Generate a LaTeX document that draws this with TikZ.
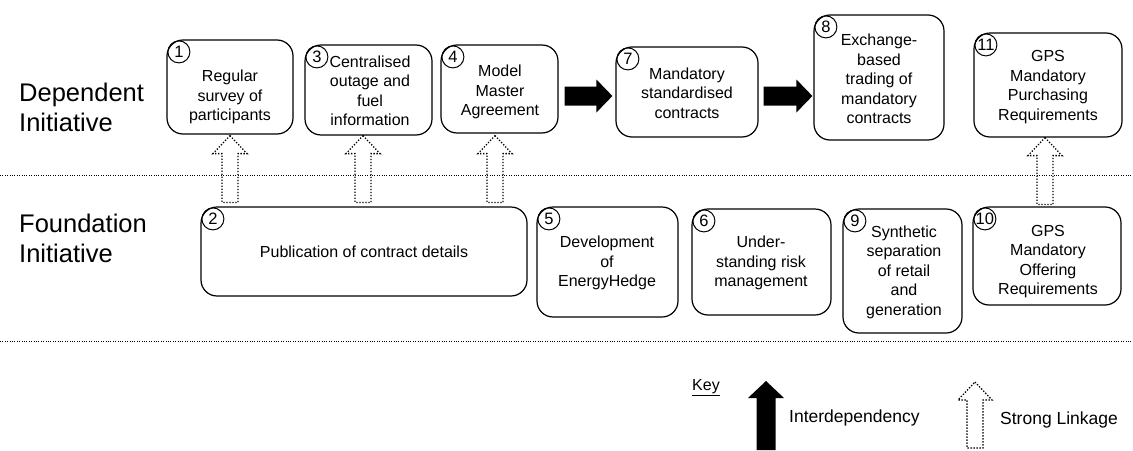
\documentclass[tikz,border=0pt]{standalone}
\usepackage{fontspec}
\setmainfont{Liberation Sans}
\usetikzlibrary{calc}

% hollow dotted arrow pointing up: #1 = tip, #2 = middle of the base
\newcommand\linkarrow[2]{%
  \draw[link] (#1) -- ($(#1)+(17,18)$) -- ($(#1)+(8,18)$) -- ($(#2)+(8,0)$)
    -- ($(#2)+(-8,0)$) -- ($(#1)+(-8,18)$) -- ($(#1)+(-17,18)$) -- cycle;}
% filled arrow pointing right: #1 = tail middle, #2 = tip
\newcommand\solidright[2]{%
  \fill ($(#1)+(0,-9.5)$) -- ($(#2)+(-16,-9.5)$) -- ($(#2)+(-16,-16.5)$) -- (#2)
    -- ($(#2)+(-16,16.5)$) -- ($(#2)+(-16,9.5)$) -- ($(#1)+(0,9.5)$) -- cycle;}
% filled arrow pointing up: #1 = tip, #2 = middle of the base
\newcommand\solidup[2]{%
  \fill (#1) -- ($(#1)+(18,17)$) -- ($(#1)+(9.5,17)$) -- ($(#2)+(9.5,0)$)
    -- ($(#2)+(-9.5,0)$) -- ($(#1)+(-9.5,17)$) -- ($(#1)+(-18,17)$) -- cycle;}

\begin{document}
\begin{tikzpicture}[x=1pt,y=-1pt,
  box/.style={draw, line width=1.2pt, rounded corners=16pt, inner sep=0pt},
  txt/.style={align=center, inner sep=0pt, font=\fontsize{16}{19.5}\selectfont},
  num/.style={circle, draw, line width=1pt, minimum size=22pt, inner sep=0pt,
    font=\fontsize{16.5}{16.5}\selectfont},
  rowlabel/.style={align=left, anchor=west, inner sep=0pt,
    font=\fontsize{25.5}{30}\selectfont},
  keytext/.style={anchor=west, inner sep=0pt, font=\fontsize{17.5}{20}\selectfont},
  sep/.style={line width=1pt, dash pattern=on 1pt off 1.4pt},
  link/.style={line width=1.3pt, dash pattern=on 1.3pt off 1.7pt, line join=miter},
]
\fill[white] (0,0) rectangle (1133,450);
\useasboundingbox (0,0) rectangle (1133,450);

% row titles
\node[rowlabel] (dep) at (19,107) {Dependent\\Initiative};
\node[rowlabel] (fnd) at (19,238) {Foundation\\Initiative};

% separators between the rows
\coordinate (s1l) at (0,175);    \coordinate (s1r) at (1133,175);
\coordinate (s2l) at (0,341);    \coordinate (s2r) at (1133,341);
\draw[sep] (s1l) -- (s1r);
\draw[sep] (s2l) -- (s2r);

% dependent initiatives
\node[box, minimum width=126pt, minimum height=94pt]  (b1)  at (230,87)    {};
\node[box, minimum width=127pt, minimum height=90pt]  (b3)  at (368.5,90)  {};
\node[box, minimum width=117pt, minimum height=88pt]  (b4)  at (499.5,89)  {};
\node[box, minimum width=142pt, minimum height=90pt]  (b7)  at (687,92)    {};
\node[box, minimum width=130pt, minimum height=125pt] (b8)  at (879,77.5)  {};
\node[box, minimum width=148pt, minimum height=104pt] (b11) at (1048,85)   {};

\node[txt] (t1)  at (230,97)   {Regular\\survey of\\participants};
\node[txt] (t3)  at (370,91)   {Centralised\\outage and\\fuel\\information};
\node[txt] (t4)  at (500,92)   {Model\\Master\\Agreement};
\node[txt] (t7)  at (687,93)   {Mandatory\\standardised\\contracts};
\node[txt] (t8)  at (879,79)   {Exchange-\\based\\trading of\\mandatory\\contracts};
\node[txt] (t11) at (1048,87)  {GPS\\Mandatory\\Purchasing\\Requirements};

% foundation initiatives
\node[box, minimum width=326pt, minimum height=89pt]  (b2)  at (364,251.5) {};
\node[box, minimum width=141pt, minimum height=110pt] (b5)  at (607.5,262) {};
\node[box, minimum width=139pt, minimum height=106pt] (b6)  at (761.5,262) {};
\node[box, minimum width=119pt, minimum height=124pt] (b9)  at (902.5,271) {};
\node[box, minimum width=148pt, minimum height=98pt]  (b10) at (1047,256)  {};

\node[txt] (t2)  at (364,252)   {Publication of contract details};
\node[txt] (t5)  at (607,263)   {Development\\of\\EnergyHedge};
\node[txt] (t6)  at (761,263)   {Under-\\standing risk\\management};
\node[txt] (t9)  at (904,272)   {Synthetic\\separation\\of retail\\and\\generation};
\node[txt] (t10) at (1048,261.5){GPS\\Mandatory\\Offering\\Requirements};

% numbers in the corners
\foreach \b/\n in {b1/1,b2/2,b3/3,b4/4,b5/5,b6/6,b7/7,b8/8,b9/9,b10/10,b11/11}
  \node[num] (n\n) at ($(\b.north west)+(12.5,12.5)$) {\n};

% strong linkages
\path (230,0) coordinate (x1) (363,0) coordinate (x3)
      (495,0) coordinate (x4) (1045,0) coordinate (x11);
\coordinate (tip1)  at ($(x1 |- b1.south)+(0,1)$);
\coordinate (tip3)  at ($(x3 |- b1.south)+(0,1)$);
\coordinate (tip4)  at ($(x4 |- b4.south)+(0,2)$);
\coordinate (tip11) at (x11 |- b11.south);
\coordinate (bas1)  at ($(x1 |- b2.north)+(0,-4)$);
\coordinate (bas3)  at ($(x3 |- b2.north)+(0,-4)$);
\coordinate (bas4)  at ($(x4 |- b2.north)+(0,-4)$);
\coordinate (bas11) at ($(x11 |- b10.north)+(0,-2)$);
\linkarrow{tip1}{bas1}
\linkarrow{tip3}{bas3}
\linkarrow{tip4}{bas4}
\linkarrow{tip11}{bas11}

% interdependencies
\coordinate (i1s) at ($(b4.east)+(6,7)$);
\coordinate (i1t) at ($(b7.west |- i1s)+(-3,0)$);
\coordinate (i2s) at ($(b7.east)+(5,4)$);
\coordinate (i2t) at ($(b8.west |- i2s)+(-1,0)$);
\solidright{i1s}{i1t}
\solidright{i2s}{i2t}

% key
\node[inner sep=0pt, font=\fontsize{16}{18}\selectfont] (key) at (706,388) {\underline{Key}};
\coordinate (k1t) at (766,381);  \coordinate (k1b) at (766,450);
\solidup{k1t}{k1b}
\node[keytext] (kinter) at (789,418) {Interdependency};
\coordinate (k2t) at (975,382);  \coordinate (k2b) at (975,448);
\linkarrow{k2t}{k2b}
\node[keytext] (kstrong) at (1000,420) {Strong Linkage};
\end{tikzpicture}
\end{document}
